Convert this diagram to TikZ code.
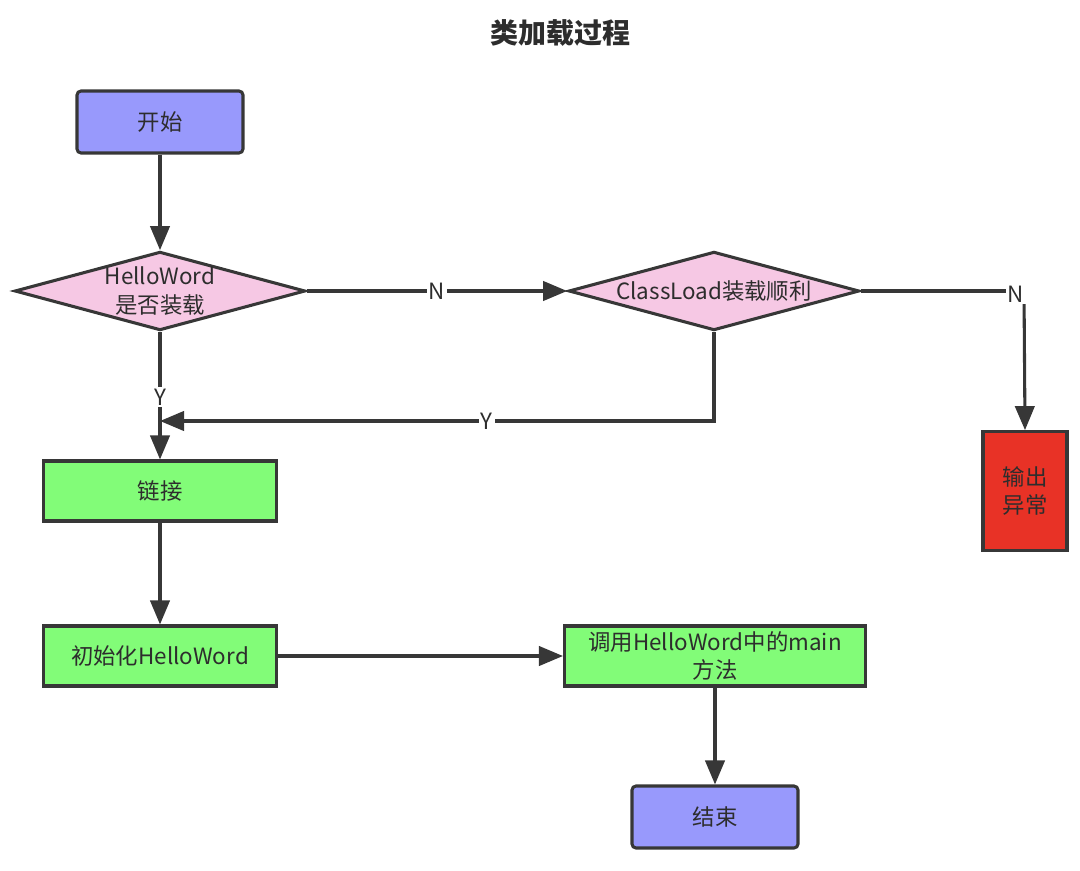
\documentclass[tikz,border=0pt]{standalone}
\usepackage{fontspec}
\setmainfont{Noto Sans CJK SC}
\usetikzlibrary{shapes.geometric,arrows.meta}
\definecolor{edge}{RGB}{55,55,55}
\definecolor{bluebox}{RGB}{152,153,252}
\definecolor{pinkbox}{RGB}{246,200,228}
\definecolor{greenbox}{RGB}{130,252,120}
\definecolor{redbox}{RGB}{232,50,38}
\definecolor{txt}{RGB}{45,45,45}
\tikzset{
  base/.style={draw=edge, line width=2.3pt, text=txt, font=\fontsize{16.8}{21.5}\selectfont, align=center, inner sep=0pt},
  term/.style={base, fill=bluebox, rounded corners=3pt, minimum width=124.5pt, minimum height=46.5pt},
  proc/.style={base, fill=greenbox, minimum width=174.75pt, minimum height=45pt},
  dec/.style={base, fill=pinkbox, diamond, aspect=3.7, minimum width=218pt, minimum height=59pt},
  err/.style={base, fill=redbox, minimum width=63pt, minimum height=89pt},
  conn/.style={draw=edge, line width=2.3pt, -{Triangle[length=18pt,width=14.5pt]}},
  plain/.style={draw=edge, line width=2.3pt},
  lbl/.style={fill=white, text=txt, font=\fontsize{16.8}{21.5}\selectfont, inner sep=1.5pt}
}
\begin{document}
\begin{tikzpicture}[x=0.75pt,y=-0.75pt]
\useasboundingbox (0,0) rectangle (1080,870);
\node[font=\fontsize{21}{25}\selectfont\bfseries, text=txt] (title) at (560,33) {类加载过程};
\node[term] (start) at (160,122) {开始};
\node[dec] (d1) at (160,291) {HelloWord\\是否装载};
\node[dec] (d2) at (714,291) {ClassLoad装载顺利};
\node[err] (out) at (1025,491) {输出\\异常};
\node[proc] (link) at (160,491) {链接};
\node[proc] (init) at (160,656) {初始化HelloWord};
\node[proc, minimum width=225.75pt] (call) at (715,656) {调用HelloWord中的main\\方法};
\node[term] (end) at (715,817) {结束};
\coordinate (c1) at (1024,291);
\coordinate (c2) at (714,421);
\coordinate (c3) at (160,421);

\draw[conn] (start) -- (d1);
\draw[conn] (d1) -- node[lbl,pos=0.5] {N} (d2);
\draw[plain] (d2.east) -- (c1);
\draw[conn] (c1) -- (out.north);
\node[lbl] (n2) at (1016,294) {N};
\draw[conn] (d1.south) -- node[lbl,pos=0.51] {Y} (link.north);
\draw[conn] (d2.south) -- (c2) -- node[lbl,pos=0.41] {Y} (c3);
\draw[conn] (link) -- (init);
\draw[conn] (init) -- (call);
\draw[conn] (call) -- (end);
\end{tikzpicture}
\end{document}
